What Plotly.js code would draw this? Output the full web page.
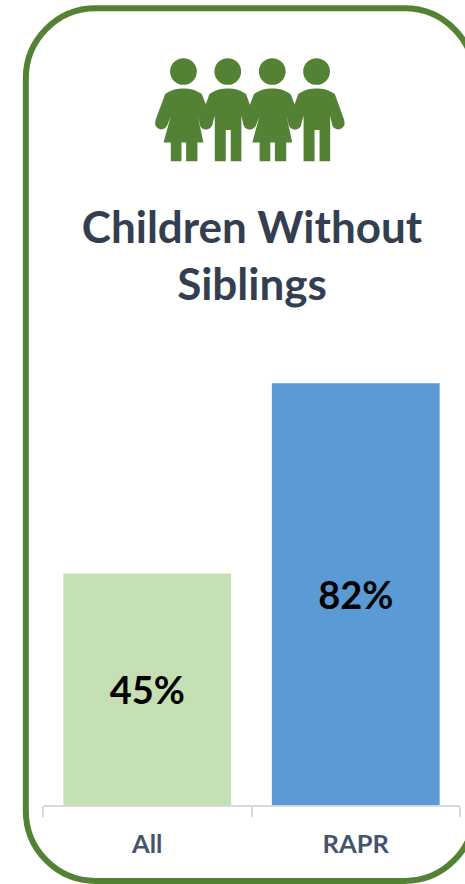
<!DOCTYPE html>
<html>
<head>
<meta charset="utf-8">
<script src="https://cdn.plot.ly/plotly-3.0.1.min.js"></script>
<style>html,body{margin:0;padding:0;background:#fff;overflow:hidden}#chart{width:465px;height:884px}</style>
</head>
<body>
<div id="chart"></div>
<script>
// Share of children without siblings
const categories = ['All', 'RAPR'];
const shares = [45, 82];
const barColors = ['#C5E0B4', '#5B9BD5'];
const chartTitle = 'Children Without<br>Siblings';

const W = 465, H = 884;
const margin = {l: 42.5, r: 4.5, t: 341.5, b: 79, pad: 0};
const plotW = W - margin.l - margin.r, plotH = H - margin.t - margin.b;
const GREEN = '#548235';

// Pixel positions to paper fractions, for the decorative shapes
const px = x => (x - margin.l) / plotW;
const py = y => 1 - (y - margin.t) / plotH;
const pt = (x, y) => px(x).toFixed(5) + ',' + py(y).toFixed(5);

// Rounded frame around the card, running off the right edge
function framePath(l, t, r, b, rad) {
  const k = rad * 0.448;
  return 'M' + pt(l + rad, t) + ' L' + pt(r - rad, t) +
    ' C' + pt(r - k, t) + ' ' + pt(r, t + k) + ' ' + pt(r, t + rad) +
    ' L' + pt(r, b - rad) +
    ' C' + pt(r, b - k) + ' ' + pt(r - k, b) + ' ' + pt(r - rad, b) +
    ' L' + pt(l + rad, b) +
    ' C' + pt(l + k, b) + ' ' + pt(l, b - k) + ' ' + pt(l, b - rad) +
    ' L' + pt(l, t + rad) +
    ' C' + pt(l, t + k) + ' ' + pt(l + k, t) + ' ' + pt(l + rad, t) + ' Z';
}

// Figure outlines in local units, three units to a pixel, origin at the neck line
const dressFigure = [
  ['M',-55,160],['C',-35,146,-18,143,0,143],['C',18,143,35,146,55,160],
  ['L',86,238],['Q',92,262,70,266],['Q',54,266,50,252],['L',43,226],
  ['L',60,305],['L',42,305],['L',42,362],['L',8,362],['L',8,305],['L',-6,305],
  ['L',-6,362],['L',-38,362],['L',-38,305],['L',-60,305],['L',-38,226],
  ['L',-48,252],['Q',-54,266,-68,266],['Q',-90,262,-84,238],['Z']
];
const trouserFigure = [
  ['M',-55,160],['C',-35,146,-18,143,0,143],['C',18,143,35,146,55,160],
  ['L',83,238],['Q',89,262,67,266],['Q',51,266,47,252],['L',41,226],
  ['L',41,362],['L',9,362],['L',9,268],['L',-6,268],['L',-6,362],
  ['L',-39,362],['L',-39,226],['L',-47,252],['Q',-53,266,-67,266],
  ['Q',-89,262,-83,238],['Z']
];
function figurePath(figure, cx) {
  return figure.map(seg => {
    let out = seg[0];
    for (let i = 1; i < seg.length; i += 2) {
      out += (i > 1 ? ' ' : '') + pt(cx + seg[i] / 3, 40 + seg[i + 1] / 3);
    }
    return out;
  }).join(' ');
}

const figureCentres = [183.3, 227.7, 272.3, 316.7];
const figureShapes = [];
figureCentres.forEach((cx, i) => {
  figureShapes.push({type: 'circle', xref: 'paper', yref: 'paper', layer: 'above',
    x0: px(cx - 13.4), x1: px(cx + 13.4), y0: py(57.4), y1: py(84),
    fillcolor: GREEN, line: {width: 0}});
  figureShapes.push({type: 'path', xref: 'paper', yref: 'paper', layer: 'above',
    path: figurePath(i % 2 === 0 ? dressFigure : trouserFigure, cx),
    fillcolor: GREEN, line: {width: 0}});
});

const trace = {
  type: 'bar',
  x: categories,
  y: shares,
  width: 0.805,
  marker: {color: barColors, line: {width: 0}},
  text: shares.map(v => v + '%'),
  textposition: 'inside',
  insidetextanchor: 'middle',
  textangle: 0,
  constraintext: 'none',
  textfont: {family: 'Lato, sans-serif', size: 38, weight: 700, color: '#000000'},
  hoverinfo: 'x+y'
};

const layout = {
  width: W,
  height: H,
  margin: margin,
  paper_bgcolor: '#FFFFFF',
  plot_bgcolor: '#FFFFFF',
  showlegend: false,
  title: {
    text: chartTitle,
    font: {family: 'Lato, sans-serif', size: 44, weight: 700, color: '#333F50'},
    x: 252 / W,
    xanchor: 'center',
    y: 1 - 243 / H,
    yanchor: 'middle'
  },
  xaxis: {
    type: 'category',
    range: [-0.5, 1.5],
    showgrid: false,
    zeroline: false,
    showline: true,
    linecolor: '#D9D9D9',
    linewidth: 1.5,
    ticks: 'outside',
    tickson: 'boundaries',
    ticklen: 10,
    tickwidth: 1.5,
    tickcolor: '#D9D9D9',
    ticklabelstandoff: 16,
    tickfont: {family: 'Lato, sans-serif', size: 25.5, weight: 700, color: '#44546A'}
  },
  yaxis: {range: [0, 90], visible: false, fixedrange: true},
  shapes: [{
    type: 'path', xref: 'paper', yref: 'paper', layer: 'above',
    path: framePath(25.3, 7.5, 475, 881, 70),
    fillcolor: 'rgba(0,0,0,0)',
    line: {color: GREEN, width: 6}
  }].concat(figureShapes)
};

Plotly.newPlot('chart', [trace], layout, {displayModeBar: false, responsive: false});
</script>
</body>
</html>
